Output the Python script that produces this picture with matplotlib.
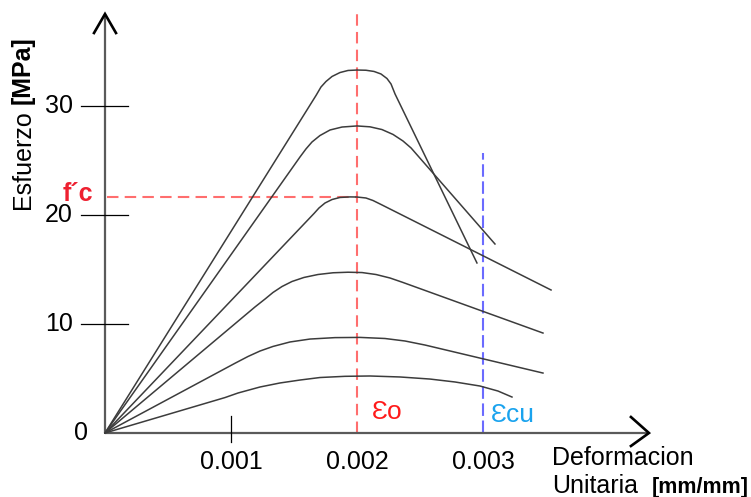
import matplotlib
matplotlib.use('Agg')
import matplotlib.pyplot as plt
import numpy as np

plt.rcParams['font.family'] = ['Liberation Sans', 'DejaVu Sans']

# ---------------- data (strain x1e-3 mm/mm, stress MPa) ----------------
c1_x = [0, 1.675, 1.714, 1.754, 1.802, 1.865, 1.929, 2.000, 2.071, 2.135,
        2.190, 2.238, 2.270, 2.302, 2.952]
c1_y = [0, 30.97, 31.74, 32.25, 32.71, 33.07, 33.26, 33.30, 33.28, 33.17,
        32.94, 32.52, 32.02, 31.10, 15.60]

c2_x = [0, 1.548, 1.595, 1.643, 1.706, 1.786, 1.881, 2.000, 2.103, 2.198,
        2.286, 2.365, 2.429, 3.095]
c2_y = [0, 25.33, 26.06, 26.70, 27.29, 27.80, 28.07, 28.17, 28.09, 27.84,
        27.39, 26.79, 26.15, 17.34]

c3_x = [0, 1.659, 1.698, 1.746, 1.802, 1.865, 1.944, 2.000, 2.071, 2.127,
        2.190, 3.540]
c3_y = [0, 20.14, 20.64, 21.10, 21.42, 21.61, 21.66, 21.65, 21.56, 21.33,
        20.97, 13.12]

c4_x = [0, 1.190, 1.270, 1.333, 1.405, 1.484, 1.579, 1.690, 1.810, 1.929,
        2.040, 2.151, 2.262, 2.365, 3.476]
c4_y = [0, 11.56, 12.29, 12.89, 13.44, 13.90, 14.27, 14.54, 14.70, 14.75,
        14.72, 14.54, 14.22, 13.81, 9.17]

c5_x = [0, 1.032, 1.135, 1.230, 1.333, 1.468, 1.627, 1.825, 2.024, 2.222,
        2.381, 2.540, 3.476]
c5_y = [0, 6.40, 7.02, 7.52, 7.94, 8.35, 8.62, 8.75, 8.77, 8.67,
        8.44, 8.07, 5.50]

c6_x = [0, 0.952, 1.056, 1.230, 1.389, 1.548, 1.706, 1.905, 2.103, 2.341,
        2.579, 2.778, 2.976, 3.119, 3.230]
c6_y = [0, 3.25, 3.67, 4.22, 4.59, 4.86, 5.09, 5.20, 5.23, 5.14,
        4.95, 4.68, 4.31, 3.85, 3.30]

curves_x = [c1_x, c2_x, c3_x, c4_x, c5_x, c6_x]
curves_y = [c1_y, c2_y, c3_y, c4_y, c5_y, c6_y]

x_ticks = [0.001, 0.002, 0.003]
x_tick_labels = ['0.001', '0.002', '0.003']
y_ticks = [10, 20, 30]
y_tick_labels = ['10', '20', '30']

fc_value = 21.65      # f'c
eps_o = 0.002
eps_cu = 0.003
eps_cu_top = 25.7
eps_o_top = 38.8
x_axis_end = 0.004317
y_axis_end = 38.44

# ---------------- layout ----------------
W, H = 751, 497
X0PX, Y0PX = 105, 433
XS = 126000.0   # px per unit strain
YS = 10.9       # px per MPa


def dxp(p):
    return p / XS


def dyp(p):
    return p / YS


fig = plt.figure(figsize=(W / 100, H / 100), dpi=100)
ax = fig.add_axes([0, 0, 1, 1])
ax.set_xlim(-X0PX / XS, (W - X0PX) / XS)
ax.set_ylim((Y0PX - H) / YS, Y0PX / YS)
ax.axis('off')

FS = 18
curve_color = '#3c3c3c'
axis_color = '#5a5a5a'

# dashed reference lines
ax.plot([eps_o, eps_o], [0, eps_o_top], color='#ff6e6e', lw=1.5,
        linestyle=(0, (5.5, 3)), zorder=1)
ax.plot([dxp(2), eps_o], [fc_value, fc_value], color='#ff6e6e', lw=1.5,
        linestyle=(0, (5.5, 3)), zorder=1)
ax.plot([eps_cu, eps_cu], [0, eps_cu_top], color='#6b6bff', lw=1.5,
        linestyle=(0, (6, 2.2)), zorder=1)

# curves
for cx, cy in zip(curves_x, curves_y):
    ax.plot(np.array(cx) * 1e-3, cy, color=curve_color, lw=1.1,
            solid_joinstyle='round', zorder=3)

# axes lines
ax.plot([0, 0], [0, y_axis_end], color=axis_color, lw=1.6, zorder=2,
        solid_capstyle='butt')
ax.plot([0, x_axis_end], [0, 0], color=axis_color, lw=1.6, zorder=2,
        solid_capstyle='butt')
# arrow heads (chevrons)
ax.plot([-dxp(11), 0, dxp(11)], [y_axis_end - dyp(19), y_axis_end,
        y_axis_end - dyp(19)], color='black', lw=1.9, zorder=4,
        solid_joinstyle='miter')
ax.plot([x_axis_end - dxp(18), x_axis_end, x_axis_end - dxp(18)],
        [dyp(16), 0, -dyp(13)], color='black', lw=1.9, zorder=4,
        solid_joinstyle='miter')

# y ticks
for v, lab in zip(y_ticks, y_tick_labels):
    ax.plot([-dxp(24), dxp(23)], [v, v], color='black', lw=0.9, zorder=2)
    ax.text(-dxp(32), v, lab, ha='right', va='center', fontsize=FS,
            color='black')
ax.text(-dxp(17), 0, '0', ha='right', va='center', fontsize=FS,
        color='black')

# x ticks
ax.plot([x_ticks[0], x_ticks[0]], [dyp(17), -dyp(9)], color='black',
        lw=0.9, zorder=2)
for v, lab in zip(x_ticks, x_tick_labels):
    ax.text(v, -dyp(29), lab, ha='center', va='center', fontsize=FS,
            color='black')

# annotations
ax.text(-dxp(12), fc_value + dyp(3), 'f\u00b4c', ha='right', va='center',
        fontsize=FS, color='#ee2030', fontweight='bold')
ax.text(eps_o + dxp(15), dyp(21), '\u0190o', ha='left', va='center',
        fontsize=FS + 1, color='#ff1a1a')
ax.text(eps_cu + dxp(8), dyp(18), '\u0190cu', ha='left', va='center',
        fontsize=FS + 1, color='#1aa3ee')

# axis titles
fig.text(23 / W, 1 - 209 / H, 'Esfuerzo', rotation=90, ha='center',
         va='bottom', fontsize=FS, color='black')
fig.text(23 / W, 1 - 104 / H, '[MPa]', rotation=90, ha='center',
         va='bottom', fontsize=FS, color='black', fontweight='bold')
fig.text(552 / W, 1 - 465 / H, 'Deformacion', ha='left', va='baseline',
         fontsize=FS, color='black')
fig.text(552 / W, 1 - 493 / H, 'Unitaria', ha='left', va='baseline',
         fontsize=FS, color='black')
fig.text(749 / W, 1 - 493 / H, '[mm/mm]', ha='right', va='baseline',
         fontsize=15.5, color='black', fontweight='bold')

fig.savefig('out.png', dpi=100, facecolor='white')
